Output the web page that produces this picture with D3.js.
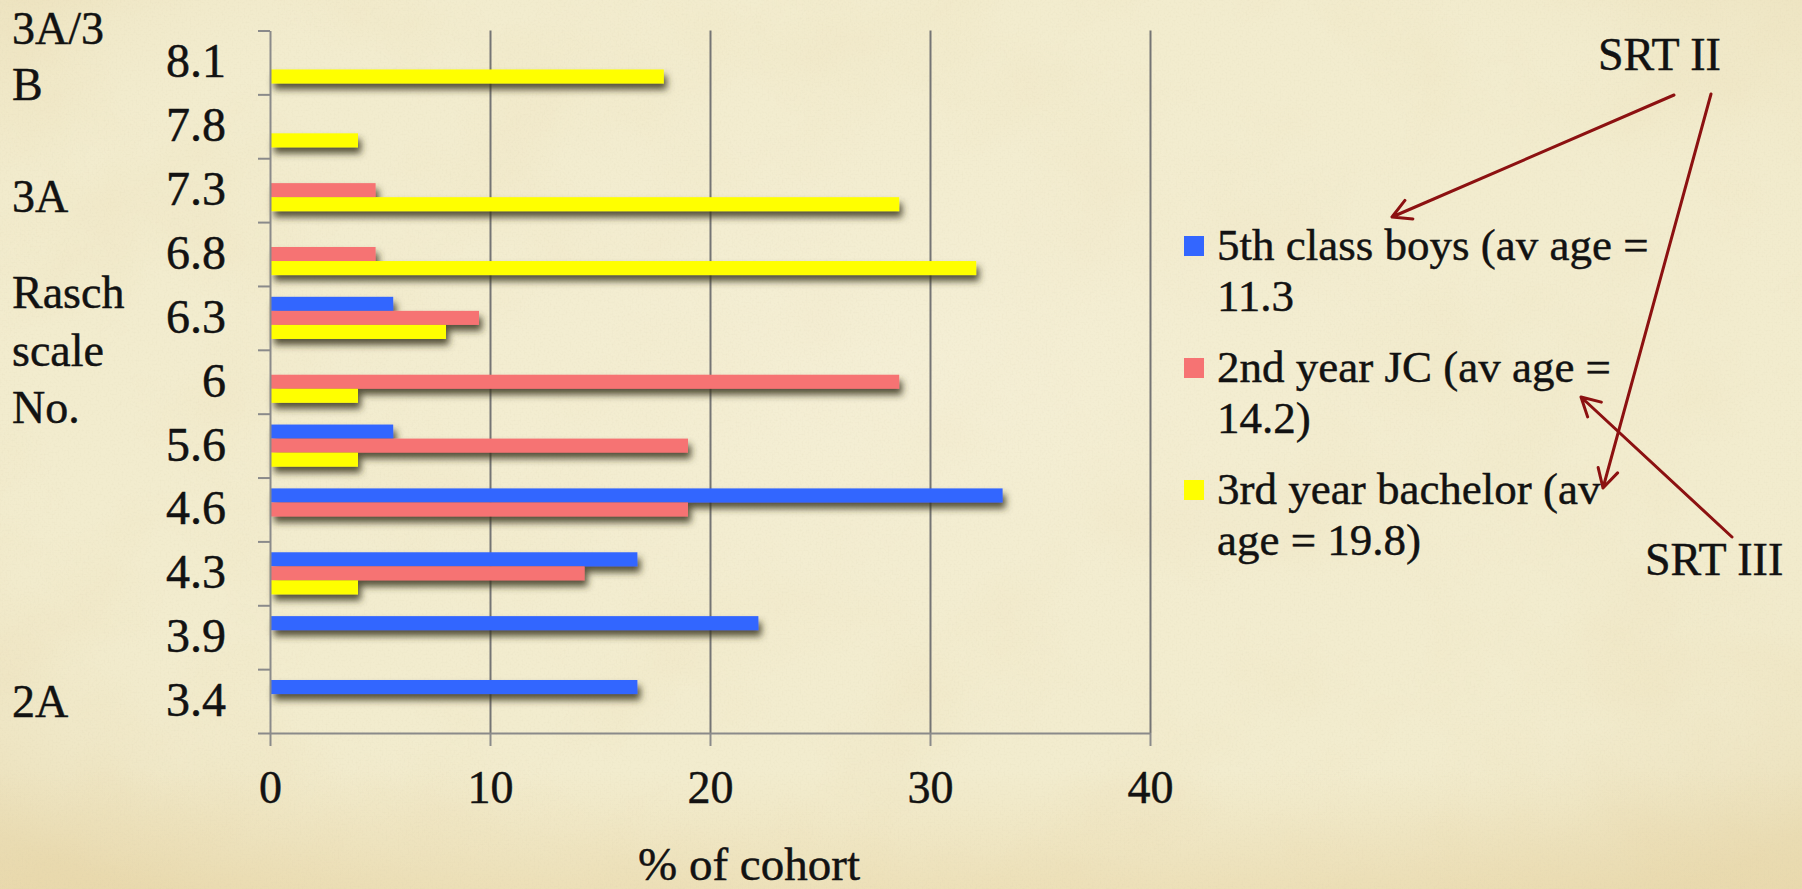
<!DOCTYPE html>
<html>
<head>
<meta charset="utf-8">
<script src="https://cdn.jsdelivr.net/npm/d3@7/dist/d3.min.js"></script>
<style>
  html, body { margin: 0; padding: 0; background: #f2ecce; overflow: hidden; }
  svg { display: block; }
</style>
</head>
<body>
<svg id="chart" width="1802" height="889"></svg>
<script>
// Rasch scale levels, top to bottom
const categories = ["8.1", "7.8", "7.3", "6.8", "6.3", "6", "5.6", "4.6", "4.3", "3.9", "3.4"];

// % of each cohort reaching each level (0 = no bar)
const boys5th     = [0, 0, 0, 0, 5.6, 0, 5.6, 33.3, 16.7, 22.2, 16.7];
const jc2nd       = [0, 0, 4.8, 4.8, 9.5, 28.6, 19.0, 19.0, 14.3, 0, 0];
const bachelor3rd = [17.9, 4.0, 28.6, 32.1, 8.0, 4.0, 4.0, 0, 4.0, 0, 0];

const seriesKeys = ["boys5th", "jc2nd", "bachelor3rd"];
const seriesColors = ["#3366ff", "#f67373", "#ffff00"];
const legendLines = [
  ["5th class boys (av age =", "11.3"],
  ["2nd year JC (av age =", "14.2)"],
  ["3rd year bachelor (av", "age = 19.8)"]
];
const xTicks = [0, 10, 20, 30, 40];
const levelLabels = ["3A/3", "B", "3A", "Rasch", "scale", "No.", "2A"];
const xTitle = "% of cohort";
const noteLabels = ["SRT II", "SRT III"];

const seriesData = { boys5th, jc2nd, bachelor3rd };

const W = 1802, H = 889;
const FONT = '"Liberation Serif", "Times New Roman", serif';
const INK = "#121212";
const plot = { left: 270, right: 1150, top: 30.5, bottom: 733 };

const svg = d3.select("#chart");
const defs = svg.append("defs");

// slightly heavier serif text
function ink(sel, size) {
  return sel.attr("font-size", size).style("font-family", FONT)
    .attr("fill", INK).attr("stroke", INK).attr("stroke-width", 0.45);
}

// ---- parchment background ----
const blot = defs.append("filter").attr("id", "blot")
  .attr("x", 0).attr("y", 0).attr("width", W).attr("height", H)
  .attr("filterUnits", "userSpaceOnUse");
blot.append("feTurbulence").attr("type", "fractalNoise")
  .attr("baseFrequency", "0.007").attr("numOctaves", 4).attr("seed", 11);
blot.append("feColorMatrix").attr("type", "matrix")
  .attr("values", "0 0 0 0 0.84  0 0 0 0 0.73  0 0 0 0 0.48  1.4 0 0 0 -0.62");

const grain = defs.append("filter").attr("id", "grain")
  .attr("x", 0).attr("y", 0).attr("width", W).attr("height", H)
  .attr("filterUnits", "userSpaceOnUse");
grain.append("feTurbulence").attr("type", "fractalNoise")
  .attr("baseFrequency", "0.5").attr("numOctaves", 2).attr("seed", 3);
grain.append("feColorMatrix").attr("type", "matrix")
  .attr("values", "0 0 0 0 0.62  0 0 0 0 0.56  0 0 0 0 0.38  0.9 0 0 0 -0.40");

const vign = defs.append("radialGradient").attr("id", "vign")
  .attr("cx", "50%").attr("cy", "42%").attr("r", "72%");
vign.append("stop").attr("offset", "0%").attr("stop-color", "#f7f2de").attr("stop-opacity", 0.5);
vign.append("stop").attr("offset", "65%").attr("stop-color", "#f3ecd0").attr("stop-opacity", 0.0);
vign.append("stop").attr("offset", "100%").attr("stop-color", "#dcc58f").attr("stop-opacity", 0.35);

const bottomWarm = defs.append("linearGradient").attr("id", "bottomWarm")
  .attr("x1", 0).attr("y1", 0).attr("x2", 0).attr("y2", 1);
bottomWarm.append("stop").attr("offset", "0%").attr("stop-color", "#e6d09a").attr("stop-opacity", 0);
bottomWarm.append("stop").attr("offset", "100%").attr("stop-color", "#e6d09a").attr("stop-opacity", 0.35);

const bg = svg.append("g");
bg.append("rect").attr("width", W).attr("height", H).attr("fill", "#f2ecce");
bg.append("rect").attr("width", W).attr("height", H).attr("filter", "url(#blot)").attr("opacity", 0.45);
bg.append("rect").attr("width", W).attr("height", H).attr("fill", "url(#vign)");
bg.append("rect").attr("y", 770).attr("width", W).attr("height", H - 770).attr("fill", "url(#bottomWarm)");
bg.append("rect").attr("width", W).attr("height", H).attr("filter", "url(#grain)").attr("opacity", 0.3);

// ---- bar shadow ----
const shadow = defs.append("filter").attr("id", "barShadow")
  .attr("x", "-5%").attr("y", "-50%").attr("width", "115%").attr("height", "250%");
shadow.append("feDropShadow").attr("dx", 3).attr("dy", 6).attr("stdDeviation", 3.5)
  .attr("flood-color", "#3a3520").attr("flood-opacity", 0.85);

// ---- scales ----
const x = d3.scaleLinear().domain([0, 40]).range([plot.left, plot.right]);
const y = d3.scaleBand().domain(categories).range([plot.top, plot.bottom]).padding(0);
const ys = d3.scaleBand().domain(seriesKeys)
  .range([y.bandwidth() * 0.17, y.bandwidth() * 0.83]).padding(0);
const yEdge = d3.scaleLinear().domain([0, categories.length]).range([plot.top, plot.bottom]);

const axisColor = "#8a8a8a";

// vertical gridlines
svg.append("g")
  .attr("transform", `translate(0,${plot.bottom})`)
  .call(d3.axisBottom(x).tickValues(xTicks.slice(1)).tickSize(-(plot.bottom - plot.top)).tickFormat(""))
  .call(g => g.select(".domain").remove())
  .call(g => g.selectAll("line").attr("stroke", "#747474").attr("stroke-width", 2));

// bars
const bars = svg.append("g").attr("filter", "url(#barShadow)");
seriesKeys.forEach((key, si) => {
  const rows = categories.map((c, i) => ({ c, v: seriesData[key][i] })).filter(d => d.v > 0);
  bars.selectAll(null).data(rows).join("rect")
    .attr("x", x(0) + 1)
    .attr("y", d => y(d.c) + ys(key))
    .attr("width", d => x(d.v) - x(0) - 1)
    .attr("height", ys.bandwidth())
    .attr("fill", seriesColors[si]);
});

// bottom axis with labels
svg.append("g")
  .attr("transform", `translate(0,${plot.bottom})`)
  .call(d3.axisBottom(x).tickValues(xTicks).tickSize(13).tickSizeOuter(0).tickPadding(24))
  .call(g => g.select(".domain").attr("stroke", axisColor).attr("stroke-width", 2))
  .call(g => g.selectAll("line").attr("stroke", axisColor).attr("stroke-width", 2))
  .call(g => ink(g.selectAll("text"), 46));

// left axis line with band boundary ticks
svg.append("g")
  .attr("transform", `translate(${plot.left},0)`)
  .call(d3.axisLeft(yEdge).tickValues(d3.range(0, categories.length + 1)).tickSize(12).tickSizeOuter(0).tickFormat(""))
  .call(g => g.select(".domain").attr("stroke", axisColor).attr("stroke-width", 2))
  .call(g => g.selectAll("line").attr("stroke", axisColor).attr("stroke-width", 2));

// category labels
svg.append("g")
  .attr("transform", `translate(${plot.left},0)`)
  .call(d3.axisLeft(y).tickSize(0).tickPadding(44))
  .call(g => g.select(".domain").remove())
  .call(g => ink(g.selectAll("text"), 48).attr("dy", "0.31em"));

// level labels on the far left
const levelY = [44, 100, 212, 308, 366, 423, 717];
ink(svg.append("g").selectAll("text").data(levelLabels).join("text")
  .attr("x", 12).attr("y", (d, i) => levelY[i]).text(d => d), 46);

// x-axis title
ink(svg.append("text").attr("x", 749).attr("y", 880)
  .attr("text-anchor", "middle").text(xTitle), 47);

// legend
const legend = svg.append("g").attr("transform", "translate(1184,0)");
const legendBase = [260, 382, 504];
legendLines.forEach((lines, i) => {
  legend.append("rect").attr("x", 0).attr("y", legendBase[i] - 24).attr("width", 20).attr("height", 20)
    .attr("fill", seriesColors[i]);
  lines.forEach((t, j) => {
    ink(legend.append("text").attr("x", 33).attr("y", legendBase[i] + j * 51).text(t), 45);
  });
});

// SRT annotations
ink(svg.append("text").attr("x", 1598).attr("y", 70).text(noteLabels[0]), 46);
ink(svg.append("text").attr("x", 1645).attr("y", 575).text(noteLabels[1]), 46);

const arrowColor = "#8c1111";
function arrow(x1, y1, x2, y2) {
  const a = Math.atan2(y2 - y1, x2 - x1);
  const L = 21, spread = 0.5;
  const p = d3.path();
  p.moveTo(x1, y1); p.lineTo(x2, y2);
  p.moveTo(x2 - L * Math.cos(a - spread), y2 - L * Math.sin(a - spread));
  p.lineTo(x2, y2);
  p.lineTo(x2 - L * Math.cos(a + spread), y2 - L * Math.sin(a + spread));
  svg.append("path").attr("d", p.toString()).attr("fill", "none")
    .attr("stroke", arrowColor).attr("stroke-width", 3)
    .attr("stroke-linecap", "round").attr("stroke-linejoin", "round");
}
arrow(1674, 95, 1392, 217);
arrow(1711, 94, 1603, 488);
arrow(1732, 537, 1581, 397);
</script>
</body>
</html>
